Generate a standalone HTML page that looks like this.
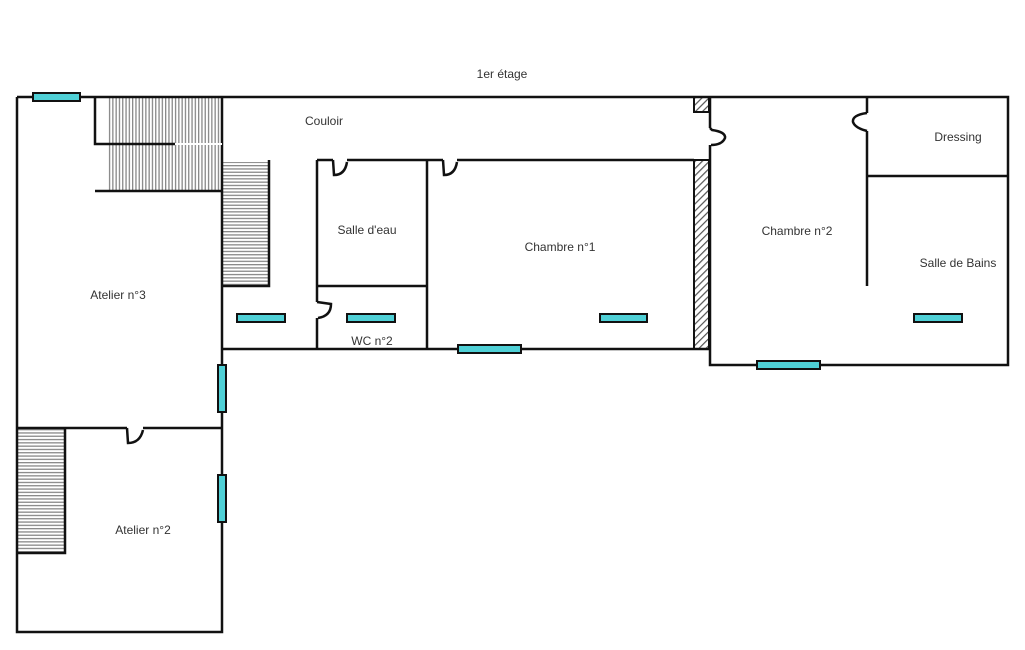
<!DOCTYPE html>
<html><head><meta charset="utf-8"><style>
html,body{margin:0;padding:0;background:#fff;}
svg{display:block;}
text{font-family:"Liberation Sans",sans-serif;font-size:12px;fill:#333;}
</style></head><body>
<svg width="1025" height="650" viewBox="0 0 1025 650" xmlns="http://www.w3.org/2000/svg">
<defs>
<pattern id="vst" width="3.3" height="10" patternUnits="userSpaceOnUse"><rect width="3.3" height="10" fill="#fff"/><rect width="1.3" height="10" fill="#888"/></pattern>
<pattern id="hst" width="10" height="3.3" patternUnits="userSpaceOnUse"><rect width="10" height="3.3" fill="#fff"/><rect width="10" height="1.3" fill="#888"/></pattern>
<pattern id="hatch" width="5" height="5" patternUnits="userSpaceOnUse" patternTransform="rotate(45)"><rect width="5" height="5" fill="#fff"/><rect width="1.2" height="5" fill="#555"/></pattern>
</defs>
<rect x="108" y="97" width="114" height="94" fill="url(#vst)"/>
<rect x="222" y="162" width="47" height="124" fill="url(#hst)"/>
<rect x="17" y="428" width="48" height="125" fill="url(#hst)"/>
<rect x="694" y="160" width="15" height="189" fill="url(#hatch)" stroke="#111" stroke-width="2"/>
<rect x="694" y="97" width="15" height="15" fill="url(#hatch)" stroke="#111" stroke-width="2"/>
<g stroke="#111" stroke-width="2.5" fill="none">
<path d="M17,97 H710 M17,97 V632 H222 V97"/>
<path d="M17,428 H127 M143,428 H222"/>
<path d="M95,97 V144 H175"/>
<path d="M95,191 H222"/>
<path d="M269,160 V286 H222"/>
<path d="M17,553 H65 V428"/>
<path d="M222,349 H710"/>
<path d="M317,160 H333 M347,160 H443 M457,160 H694"/>
<path d="M317,160 V302 M317,318 V349"/>
<path d="M427,160 V349"/>
<path d="M317,286 H427"/>
<path d="M710,97 H1008 V365 H710 V145 M710,128 V97"/>
<path d="M867,97 V113 M867,131 V286"/>
<path d="M867,176 H1008"/>
<path d="M333,160 L334,175 Q345,175 347,162"/>
<path d="M443,160 L444,175 Q455,175 457,162"/>
<path d="M317,302 L331,304 Q331,316 318,318"/>
<path d="M710,128 L712,130 Q726,132 725,138 Q722,145 711,145"/>
<path d="M867,113 Q852,115 853,122 Q855,128 867,131"/>
<path d="M127,428 L128,443 Q140,443 143,430"/>
</g>
<path d="M175,144 H222" stroke="#fff" stroke-width="2"/>
<g fill="#4fd0d6" stroke="#111" stroke-width="2">
<rect x="33" y="93" width="47" height="8"/>
<rect x="237" y="314" width="48" height="8"/>
<rect x="347" y="314" width="48" height="8"/>
<rect x="600" y="314" width="47" height="8"/>
<rect x="458" y="345" width="63" height="8"/>
<rect x="757" y="361" width="63" height="8"/>
<rect x="914" y="314" width="48" height="8"/>
<rect x="218" y="365" width="8" height="47"/>
<rect x="218" y="475" width="8" height="47"/>
</g>
<text x="502" y="78" text-anchor="middle">1er étage</text>
<text x="324" y="125" text-anchor="middle">Couloir</text>
<text x="367" y="234" text-anchor="middle">Salle d'eau</text>
<text x="372" y="345" text-anchor="middle">WC n°2</text>
<text x="560" y="251" text-anchor="middle">Chambre n°1</text>
<text x="797" y="235" text-anchor="middle">Chambre n°2</text>
<text x="958" y="141" text-anchor="middle">Dressing</text>
<text x="958" y="267" text-anchor="middle">Salle de Bains</text>
<text x="118" y="299" text-anchor="middle">Atelier n°3</text>
<text x="143" y="534" text-anchor="middle">Atelier n°2</text>
</svg>
</body></html>
